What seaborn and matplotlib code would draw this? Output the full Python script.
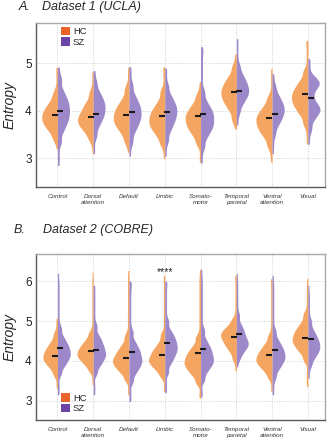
import numpy as np
import pandas as pd
import matplotlib
matplotlib.use("Agg")
import matplotlib.pyplot as plt
import seaborn as sns
from matplotlib.patches import Patch

networks = ["Control", "Dorsal\nattention", "Default", "Limbic", "Somato-\nmotor",
            "Temporal\nparietal", "Ventral\nattention", "Visual"]
groups = ["HC", "SZ"]

# Each violin: "core" values (each observed core_count[group] times) and sparse "tail" values (once).
core_count = {"HC": 4, "SZ": 3}
TAIL_COUNT = 1

# ---- Dataset 1 (UCLA) ----
ucla_hc_core = [
    [3.40, 3.55, 3.63, 3.70, 3.75, 3.80, 3.85, 3.90, 3.95, 4.00, 4.06, 4.13, 4.22, 4.37],
    [3.41, 3.54, 3.62, 3.68, 3.73, 3.78, 3.82, 3.87, 3.92, 3.98, 4.04, 4.12, 4.21, 4.38],
    [3.38, 3.53, 3.62, 3.69, 3.75, 3.80, 3.86, 3.91, 3.97, 4.03, 4.09, 4.17, 4.28, 4.46],
    [3.32, 3.47, 3.56, 3.63, 3.69, 3.74, 3.80, 3.85, 3.91, 3.97, 4.03, 4.11, 4.22, 4.40],
    [3.32, 3.47, 3.56, 3.63, 3.69, 3.74, 3.80, 3.85, 3.90, 3.95, 4.01, 4.08, 4.17, 4.32],
    [3.84, 4.01, 4.10, 4.18, 4.24, 4.30, 4.35, 4.41, 4.46, 4.52, 4.58, 4.66, 4.75, 4.92],
    [3.28, 3.43, 3.52, 3.59, 3.65, 3.70, 3.76, 3.81, 3.86, 3.91, 3.97, 4.04, 4.13, 4.28],
    [3.74, 3.91, 4.00, 4.08, 4.14, 4.20, 4.25, 4.31, 4.36, 4.42, 4.48, 4.56, 4.65, 4.82],
]
ucla_hc_tail = [
    [3.20, 4.52, 4.66, 4.80, 4.92],
    [3.10, 3.25, 4.55, 4.70, 4.82],
    [3.13, 3.25, 4.62, 4.77, 4.92],
    [3.00, 3.15, 4.55, 4.70, 4.82, 4.93],
    [2.92, 3.08, 4.48, 4.62],
    [3.62, 3.72, 5.08, 5.20],
    [2.92, 3.05, 3.15, 4.45, 4.60, 4.75, 4.89],
    [3.30, 3.45, 3.58, 4.98, 5.12, 5.26, 5.40, 5.48],
]
ucla_sz_core = [
    [3.35, 3.55, 3.67, 3.76, 3.83, 3.90, 3.97, 4.03, 4.10, 4.17, 4.24, 4.33, 4.45, 4.65],
    [3.47, 3.65, 3.76, 3.84, 3.90, 3.96, 4.02, 4.08, 4.13, 4.19, 4.25, 4.33, 4.42, 4.59],
    [3.36, 3.54, 3.65, 3.73, 3.80, 3.86, 3.92, 3.98, 4.04, 4.10, 4.17, 4.25, 4.36, 4.54],
    [3.38, 3.56, 3.67, 3.75, 3.82, 3.88, 3.94, 4.00, 4.05, 4.11, 4.17, 4.25, 4.34, 4.51],
    [3.24, 3.42, 3.53, 3.61, 3.67, 3.73, 3.79, 3.85, 3.91, 3.97, 4.03, 4.11, 4.22, 4.40],
    [3.98, 4.13, 4.21, 4.28, 4.33, 4.38, 4.43, 4.47, 4.53, 4.58, 4.64, 4.71, 4.80, 4.95],
    [3.53, 3.69, 3.77, 3.84, 3.90, 3.95, 4.00, 4.05, 4.10, 4.15, 4.21, 4.28, 4.37, 4.52],
    [3.62, 3.80, 3.90, 3.97, 4.02, 4.07, 4.13, 4.22, 4.35, 4.47, 4.54, 4.59, 4.64, 4.72],
]
ucla_sz_tail = [
    [2.85, 3.00, 3.15, 4.80, 4.92],
    [3.10, 3.25, 4.75, 4.85],
    [3.05, 3.20, 4.70, 4.82, 4.93],
    [3.05, 3.20, 4.66, 4.80, 4.90],
    [2.90, 3.05, 4.58, 4.72, 4.86, 5.00, 5.14, 5.26, 5.35],
    [3.70, 3.82, 5.12, 5.26, 5.40, 5.52],
    [3.10, 3.25, 3.38, 4.68, 4.78],
    [3.30, 3.45, 4.88, 5.00, 5.10],
]
ucla_hc_mean = [3.92, 3.87, 3.92, 3.90, 3.89, 4.40, 3.85, 4.36]
ucla_sz_mean = [4.00, 3.94, 3.97, 3.97, 3.94, 4.41, 3.94, 4.27]

# ---- Dataset 2 (COBRE) ----
cobre_hc_core = [
    [3.66, 3.81, 3.89, 3.96, 4.01, 4.06, 4.11, 4.16, 4.21, 4.27, 4.33, 4.41, 4.50, 4.67],
    [3.77, 3.90, 3.98, 4.04, 4.09, 4.14, 4.18, 4.23, 4.28, 4.33, 4.39, 4.46, 4.55, 4.70],
    [3.54, 3.70, 3.78, 3.85, 3.91, 3.96, 4.01, 4.06, 4.12, 4.18, 4.25, 4.33, 4.44, 4.62],
    [3.62, 3.76, 3.84, 3.90, 3.96, 4.00, 4.05, 4.10, 4.16, 4.22, 4.28, 4.36, 4.47, 4.65],
    [3.46, 3.63, 3.72, 3.80, 3.86, 3.92, 3.97, 4.03, 4.09, 4.15, 4.22, 4.30, 4.41, 4.59],
    [4.06, 4.23, 4.32, 4.40, 4.46, 4.52, 4.57, 4.62, 4.67, 4.71, 4.76, 4.82, 4.90, 5.03],
    [3.60, 3.75, 3.83, 3.90, 3.95, 4.00, 4.05, 4.10, 4.15, 4.21, 4.27, 4.35, 4.44, 4.61],
    [4.03, 4.20, 4.29, 4.37, 4.43, 4.49, 4.54, 4.60, 4.66, 4.72, 4.79, 4.87, 4.98, 5.16],
]
cobre_hc_tail = [
    [3.32, 3.45, 4.82, 4.95, 5.07],
    [3.40, 3.55, 4.85, 5.00, 5.15, 5.30, 5.45, 5.60, 5.75, 5.90, 6.05, 6.23],
    [3.15, 3.30, 4.78, 4.92, 5.06, 5.20, 5.35, 5.50, 5.65, 5.80, 5.95, 6.10, 6.27],
    [3.23, 3.38, 4.80, 4.95, 5.10, 5.25, 5.40, 5.55, 5.70, 5.85, 6.00, 6.15],
    [3.07, 3.20, 4.75, 4.90, 5.05, 5.20, 5.35, 5.50, 5.65, 5.80, 5.95, 6.10, 6.30],
    [3.75, 3.88, 5.18, 5.32, 5.46, 5.60, 5.75, 5.90, 6.05, 6.15],
    [3.23, 3.38, 4.76, 4.90, 5.05, 5.20, 5.35, 5.50, 5.65, 5.80, 5.95, 6.07],
    [3.36, 3.50, 3.65, 3.80, 5.30, 5.45, 5.60, 5.75, 5.90, 6.07],
]
cobre_sz_core = [
    [3.68, 3.85, 3.94, 4.02, 4.08, 4.14, 4.19, 4.25, 4.31, 4.37, 4.44, 4.52, 4.63, 4.81],
    [3.69, 3.86, 3.95, 4.03, 4.09, 4.15, 4.20, 4.26, 4.33, 4.39, 4.47, 4.55, 4.66, 4.86],
    [3.48, 3.66, 3.77, 3.85, 3.92, 3.98, 4.04, 4.10, 4.17, 4.24, 4.31, 4.40, 4.52, 4.72],
    [3.72, 3.92, 4.03, 4.12, 4.19, 4.26, 4.32, 4.38, 4.45, 4.51, 4.59, 4.67, 4.78, 4.98],
    [3.52, 3.70, 3.81, 3.89, 3.95, 4.01, 4.07, 4.13, 4.20, 4.27, 4.34, 4.43, 4.55, 4.75],
    [4.05, 4.19, 4.27, 4.33, 4.39, 4.43, 4.48, 4.53, 4.60, 4.66, 4.74, 4.82, 4.93, 5.13],
    [3.61, 3.78, 3.87, 3.95, 4.01, 4.07, 4.12, 4.18, 4.24, 4.30, 4.37, 4.45, 4.56, 4.74],
    [3.90, 4.05, 4.14, 4.21, 4.27, 4.32, 4.38, 4.43, 4.49, 4.55, 4.62, 4.70, 4.81, 4.99],
]
cobre_sz_tail = [
    [3.15, 3.30, 3.45, 4.95, 5.10, 5.25, 5.40, 5.55, 5.70, 5.85, 6.00, 6.20],
    [3.15, 3.30, 3.45, 5.00, 5.15, 5.30, 5.45, 5.60, 5.75, 5.90],
    [2.98, 3.12, 3.26, 4.88, 5.03, 5.18, 5.33, 5.48, 5.63, 5.78, 5.90, 6.00],
    [3.20, 3.35, 3.50, 5.14, 5.30, 5.45, 5.60, 5.75, 5.90, 6.00],
    [3.10, 3.25, 4.90, 5.05, 5.20, 5.35, 5.50, 5.65, 5.80, 5.95, 6.10, 6.30],
    [3.85, 5.28, 5.42, 5.56, 5.70, 5.85, 6.00, 6.20],
    [3.15, 3.30, 3.45, 4.90, 5.05, 5.20, 5.35, 5.50, 5.65, 5.80, 5.95, 6.15],
    [3.57, 3.72, 5.14, 5.28, 5.42, 5.56, 5.70, 5.90],
]
cobre_hc_mean = [4.13, 4.25, 4.08, 4.15, 4.20, 4.59, 4.16, 4.58]
cobre_sz_mean = [4.32, 4.28, 4.22, 4.44, 4.30, 4.67, 4.28, 4.55]

fill_pal = {"HC": "#F5A562", "SZ": "#9D89C9"}
legend_cols = {"HC": "#E9632A", "SZ": "#6B45A5"}
FONT = ["Liberation Sans", "DejaVu Sans"]

sns.set_style("white")
plt.rcParams["font.family"] = FONT


def long_df(hc_core, hc_tail, sz_core, sz_tail):
    rows = []
    for g, cores, tails in (("HC", hc_core, hc_tail), ("SZ", sz_core, sz_tail)):
        for net, core, tail in zip(networks, cores, tails):
            for v in core:
                rows.extend([(net, g, v)] * core_count[g])
            for v in tail:
                rows.extend([(net, g, v)] * TAIL_COUNT)
    return pd.DataFrame(rows, columns=["network", "group", "entropy"])


def bw_abs(kde):
    return 0.09 / np.std(kde.dataset, ddof=1)


def panel(ax, df, hc_m, sz_m, ylim, yticks):
    sns.violinplot(data=df, x="network", y="entropy", hue="group", order=networks,
                   hue_order=groups, split=True, inner=None, palette=fill_pal,
                   linewidth=0, cut=0, bw_method=bw_abs, density_norm="count",
                   common_norm=True, width=0.92, gap=0, saturation=1, legend=False, ax=ax)
    mdf = pd.DataFrame({"network": networks * 2,
                        "group": ["HC"] * len(networks) + ["SZ"] * len(networks),
                        "mean": hc_m + sz_m})
    sns.pointplot(data=mdf, x="network", y="mean", hue="group", order=networks,
                  hue_order=groups, dodge=0.15, markers="_", linestyle="none",
                  palette={"HC": "#1a1a1a", "SZ": "#1a1a1a"}, markersize=4.8,
                  markeredgewidth=1.5, errorbar=None, legend=False, ax=ax)
    ax.set_xlim(-0.6, 7.48)
    ax.set_ylim(*ylim)
    ax.set_yticks(yticks)
    ax.grid(True, linestyle=(0, (1, 1.6)), color="#CFCFCF", linewidth=0.7)
    ax.set_axisbelow(True)
    ax.tick_params(axis="both", length=0)
    ax.tick_params(axis="y", labelsize=8.5, pad=3, labelcolor="#222222")
    ax.tick_params(axis="x", pad=5)
    for lab in ax.get_xticklabels():
        lab.set_fontsize(4.5)
        lab.set_fontstyle("italic")
        lab.set_color("#333333")
        lab.set_linespacing(1.2)
    ax.set_xlabel("")
    ax.set_ylabel("Entropy", fontsize=10, fontstyle="italic", labelpad=6)
    for s in ("left", "bottom"):
        ax.spines[s].set_color("#5a5a5a")
        ax.spines[s].set_linewidth(1.0)
    for s in ("top", "right"):
        ax.spines[s].set_color("#a8a8a8")
        ax.spines[s].set_linewidth(1.0)


fig = plt.figure(figsize=(3.3, 4.4), dpi=100)
axA = fig.add_axes([0.109, 0.575, 0.876, 0.373])
axB = fig.add_axes([0.109, 0.0455, 0.876, 0.377])

dfA = long_df(ucla_hc_core, ucla_hc_tail, ucla_sz_core, ucla_sz_tail)
dfB = long_df(cobre_hc_core, cobre_hc_tail, cobre_sz_core, cobre_sz_tail)
panel(axA, dfA, ucla_hc_mean, ucla_sz_mean, (2.4, 5.85), [3, 4, 5])
panel(axB, dfB, cobre_hc_mean, cobre_sz_mean, (2.52, 6.68), [3, 4, 5, 6])

axB.text(3, 6.24, "****", ha="center", va="center", fontsize=7.5, color="#222222")

handles = [Patch(facecolor=legend_cols[g], edgecolor="none", label=g) for g in groups]
for ax, anchor in ((axA, (0.085, 0.975)), (axB, (0.085, 0.16))):
    ax.legend(handles=handles, loc="upper left", bbox_to_anchor=anchor, frameon=False,
              fontsize=6.8, handlelength=0.95, handleheight=0.95, handletextpad=0.35,
              labelspacing=0.12, borderpad=0, borderaxespad=0)

fig.text(0.055, 0.984, "A.", fontsize=9, fontstyle="italic", va="center", ha="left")
fig.text(0.127, 0.984, "Dataset 1 (UCLA)", fontsize=9, fontstyle="italic", va="center", ha="left")
fig.text(0.040, 0.477, "B.", fontsize=9, fontstyle="italic", va="center", ha="left")
fig.text(0.130, 0.477, "Dataset 2 (COBRE)", fontsize=9, fontstyle="italic", va="center", ha="left")

fig.savefig("out.png", dpi=100)
